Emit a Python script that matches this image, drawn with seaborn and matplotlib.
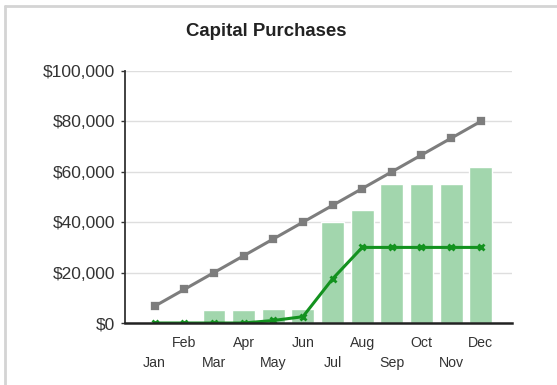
import matplotlib
matplotlib.use("Agg")
import matplotlib.pyplot as plt
from matplotlib.lines import Line2D
from matplotlib.ticker import FuncFormatter
import seaborn as sns
import pandas as pd

months = ["Jan", "Feb", "Mar", "Apr", "May", "Jun",
          "Jul", "Aug", "Sep", "Oct", "Nov", "Dec"]
monthly_purchases = [0, 0, 5000, 5000, 5500, 5500,
                     40000, 45000, 55000, 55000, 55000, 62000]
cumulative_budget = [6667, 13333, 20000, 26667, 33333, 40000,
                     46667, 53333, 60000, 66667, 73333, 80000]
cumulative_spent = [0, 0, 0, 0, 1000, 2500,
                    17500, 30000, 30000, 30000, 30000, 30000]
y_ticks = [0, 20000, 40000, 60000, 80000, 100000]

df = pd.DataFrame({
    "month": months,
    "purchases": monthly_purchases,
    "budget": cumulative_budget,
    "spent": cumulative_spent,
})

sns.set_theme(style="white")
plt.rcParams["font.family"] = ["Liberation Sans", "DejaVu Sans"]

fig = plt.figure(figsize=(5.57, 3.85), dpi=100)
ax = fig.add_axes([0.2244, 0.161, 0.919 - 0.2244, 0.8156 - 0.161])

sns.barplot(data=df, x="month", y="purchases", color="#a2d6ad",
            saturation=1, width=0.77, ax=ax, zorder=2)
sns.pointplot(data=df, x="month", y="budget", color="#7d7d7d",
              marker="s", markersize=5, linewidth=2.2, errorbar=None,
              ax=ax, zorder=4)
sns.pointplot(data=df, x="month", y="spent", color="#13921f",
              marker="x", markersize=5, markeredgewidth=2, linewidth=2.2,
              errorbar=None, ax=ax, zorder=5)

ax.set_xlim(-1.0, 12.05)
ax.set_ylim(0, 100000)
ax.set_yticks(y_ticks)
ax.yaxis.set_major_formatter(FuncFormatter(lambda v, _: f"${v:,.0f}"))
ax.grid(axis="y", color="#dedede", linewidth=1, zorder=0)
ax.set_axisbelow(True)

# staggered month labels: even months on the first row, odd months below
ax.set_xticks(range(1, 12, 2))
ax.set_xticklabels(months[1::2])
ax.set_xticks(range(0, 12, 2), minor=True)
ax.set_xticklabels(months[0::2], minor=True)
ax.tick_params(axis="x", which="major", length=0, pad=9,
               labelsize=10.2, labelcolor="#333333")
ax.tick_params(axis="x", which="minor", length=0, pad=23.5,
               labelsize=10.2, labelcolor="#333333")
ax.tick_params(axis="y", length=3, width=1, color="#333333", pad=4,
               labelsize=12.5, labelcolor="#333333", left=True)

ax.set_xlabel("")
ax.set_ylabel("")
for side in ("top", "right"):
    ax.spines[side].set_visible(False)
ax.spines["left"].set_color("#333333")
ax.spines["left"].set_linewidth(1.3)
ax.spines["bottom"].set_color("#222222")
ax.spines["bottom"].set_linewidth(1.8)
ax.spines["bottom"].set_zorder(6)

fig.text(266 / 557, 1 - 32 / 385, "Capital Purchases", ha="center",
         va="center", fontsize=13.4, fontweight="bold", color="#222222")

# light frame along the top and left edges
frame_kw = dict(color="#d4d4d4", linewidth=2, transform=fig.transFigure)
fig.add_artist(Line2D([4.5 / 557, 1.0], [1 - 5.5 / 385, 1 - 5.5 / 385], **frame_kw))
fig.add_artist(Line2D([4.5 / 557, 4.5 / 557], [0.0, 1 - 5.5 / 385], **frame_kw))

fig.savefig("out.png", dpi=100, facecolor="white")
